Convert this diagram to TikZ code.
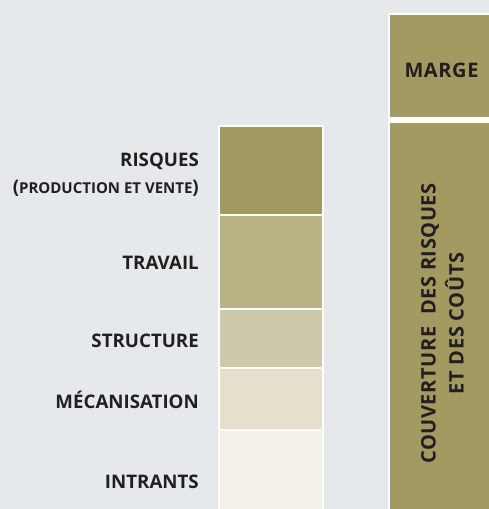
\documentclass[tikz,border=0pt]{standalone}
\usepackage{fontspec}
\setmainfont{Open Sans}
\definecolor{bgGray}{HTML}{E5E9EC}
\definecolor{labelInk}{HTML}{231F20}
\definecolor{cRisk}{HTML}{A39A62}
\definecolor{cWork}{HTML}{B9B285}
\definecolor{cStruct}{HTML}{CFC9AB}
\definecolor{cMech}{HTML}{E5DFCB}
\definecolor{cInput}{HTML}{F3F1EA}
\usepackage{tikz}

\begin{document}
\begin{tikzpicture}[x=1pt, y=-1pt,
    every node/.style={font=\fontsize{18.7}{19}\selectfont\bfseries, text=labelInk, inner sep=0pt},
    costlabel/.style={anchor=base east},
    pricelabel/.style={font=\fontsize{20}{28}\selectfont\bfseries\addfontfeature{LetterSpace=3}}]
      \fill[bgGray] (0,0) rectangle (489,509);
      \useasboundingbox (0,0) rectangle (489,509);
      % left column: cost build-up
      \foreach \ytop/\ybot/\col in {126/215/cRisk, 215/309/cWork, 309/368/cStruct,
          368/430/cMech, 430/512/cInput}
        \filldraw[fill=\col, draw=white, line width=1.5pt] (219,\ytop) rectangle (323,\ybot);
      % right column: price
      \fill[white] (388,13) rectangle (492,512);
      \fill[cRisk] (390,15) rectangle (492,116.5);
      \fill[cRisk] (390,123) rectangle (492,512);
      % labels
      \node[costlabel] (risques) at (199,166) {RISQUES};
      \node[costlabel] (production) at (199,193)
        {(\fontsize{15}{16}\selectfont PRODUCTION ET VENTE\fontsize{18.7}{19}\selectfont)};
      \node[costlabel] (travail) at (199,269) {TRAVAIL};
      \node[costlabel] (structure) at (199,347) {STRUCTURE};
      \node[costlabel] (mecanisation) at (199,408) {MÉCANISATION};
      \node[costlabel] (intrants) at (199,488) {INTRANTS};
      \node[pricelabel] (marge) at (441.5,70.5) {MARGE};
      \node[pricelabel, rotate=90, align=center] (couverture) at (442.5,323.5)
        {COUVERTURE\ \ DES RISQUES\\ET DES COÛTS};
    \end{tikzpicture}
\end{document}
